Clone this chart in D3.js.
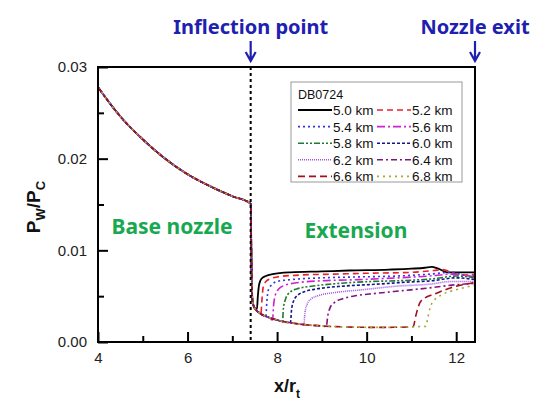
<!DOCTYPE html>
<html><head><meta charset="utf-8">
<script src="https://cdn.jsdelivr.net/npm/d3@7"></script>
<style>body{margin:0;background:#fff}svg{display:block}</style>
</head><body>
<svg id="c" width="556" height="410"></svg>
<script>
// ---- data ----
const xTicks = [4, 6, 8, 10, 12];
const xMinor = [5, 7, 9, 11];
const yTicks = [0, 0.01, 0.02, 0.03];
const yMinor = [0.005, 0.015, 0.025];
const xDomain = [4, 12.42];
const yDomain = [0, 0.03];
const inflectionX = 7.41;

const baseNozzle = [[4.0,0.0278],[4.5,0.0246],[5.0,0.0221],[5.5,0.0200],[6.0,0.0183],[6.5,0.0170],[7.0,0.0159],[7.41,0.0151]];
const lowEnvelope = [[7.43,0.0080],[7.45,0.0045],[7.5,0.0037],[7.6,0.0032],[7.8,0.0027],[8.0,0.0024],[8.3,0.0021],[8.6,0.0019],[9.0,0.00175],[9.5,0.00165],[10.0,0.0016],[10.5,0.0016],[11.0,0.00165],[11.3,0.0017]];

const labels = ["5.0 km","5.2 km","5.4 km","5.6 km","5.8 km","6.0 km","6.2 km","6.4 km","6.6 km","6.8 km"];
const b50 = [[7.55,0.0036],[7.57,0.0050],[7.60,0.0063],[7.65,0.0069],[7.75,0.0072],[7.9,0.0074],[8.3,0.0076],[9.0,0.0077],[9.6,0.0078],[10.5,0.0079],[11.0,0.0080],[11.3,0.0081],[11.45,0.0082],[11.6,0.0080],[11.8,0.0076],[12.0,0.0076],[12.42,0.0076]];
const b52 = [[7.64,0.0031],[7.66,0.0045],[7.69,0.0060],[7.75,0.0066],[7.85,0.0069],[8.0,0.0071],[8.5,0.0073],[9.2,0.0074],[10.0,0.0075],[11.0,0.0076],[11.5,0.0078],[11.7,0.0079],[11.9,0.0076],[12.1,0.0073],[12.42,0.0074]];
const b54 = [[7.75,0.0028],[7.77,0.0043],[7.80,0.0056],[7.87,0.0062],[8.0,0.0066],[8.3,0.0068],[9.0,0.0070],[9.8,0.0071],[10.7,0.0072],[11.4,0.0074],[11.9,0.0076],[12.15,0.0073],[12.42,0.0072]];
const b56 = [[7.9,0.0024],[7.92,0.0039],[7.96,0.0051],[8.04,0.0058],[8.18,0.0062],[8.5,0.0065],[9.1,0.0067],[9.8,0.0068],[10.7,0.0070],[11.4,0.0072],[11.9,0.0074],[12.42,0.0071]];
const b58 = [[8.12,0.0022],[8.14,0.0036],[8.19,0.0047],[8.28,0.0054],[8.45,0.0058],[8.8,0.0061],[9.4,0.0064],[10.1,0.0066],[10.8,0.0067],[11.5,0.0069],[12.0,0.0072],[12.42,0.0070]];
const b60 = [[8.3,0.0021],[8.32,0.0034],[8.37,0.0045],[8.46,0.0051],[8.62,0.0055],[8.9,0.0058],[9.5,0.0061],[10.2,0.0063],[10.8,0.0065],[11.5,0.0067],[12.0,0.0070],[12.42,0.0068]];
const b62 = [[8.6,0.0019],[8.62,0.0031],[8.67,0.0041],[8.76,0.0047],[8.95,0.0051],[9.3,0.0054],[9.9,0.0057],[10.7,0.0061],[11.4,0.0063],[11.9,0.0066],[12.42,0.0066]];
const b64 = [[9.1,0.0017],[9.13,0.0028],[9.18,0.0037],[9.28,0.0043],[9.45,0.0047],[9.7,0.0050],[10.2,0.0053],[10.8,0.0056],[11.4,0.0059],[11.9,0.0062],[12.42,0.0064]];
const b66 = [[11.04,0.0017],[11.1,0.0029],[11.19,0.0043],[11.3,0.0048],[11.5,0.0052],[11.87,0.0059],[12.42,0.0065]];
const b68 = [[11.32,0.0017],[11.36,0.0025],[11.42,0.0038],[11.5,0.0045],[11.7,0.0052],[12.0,0.0057],[12.42,0.0062]];
const branches = [b50,b52,b54,b56,b58,b60,b62,b64,b66,b68];

const colors = ["#000000","#e8202a","#3434e0","#d020d0","#1e7a2e","#14148a","#a050e8","#82147e","#a0101e","#a8a830"];
const dashes = ["none","6,4","2,3","8,3,2,3","6,2,2,2,2,2","3,2","1,1","6,3,2,3","7,4","2,4"];

// ---- chart ----
const svg = d3.select("#c");
const m = {l:98, r:475, t:67, b:342};
const x = d3.scaleLinear().domain(xDomain).range([m.l, m.r]);
const y = d3.scaleLinear().domain(yDomain).range([m.b, m.t]);
const font = "'Liberation Sans', Arial, sans-serif";

const series = labels.map((lab,i) => {
  const sep = branches[i][0][0];
  return {label: lab, color: colors[i], dash: dashes[i],
    pts: baseNozzle.concat(lowEnvelope.filter(p => p[0] < sep), branches[i])};
});

const line = d3.line().x(d=>x(d[0])).y(d=>y(d[1])).curve(d3.curveMonotoneX);

const g = svg.append("g");
series.forEach(s => {
  g.append("path").attr("d", line(s.pts)).attr("fill","none")
   .attr("stroke", s.color).attr("stroke-width", s.dash==="none"?1.8:1.6)
   .attr("stroke-dasharray", s.dash==="none"?null:s.dash);
});

// inflection line
svg.append("line").attr("x1",x(inflectionX)).attr("x2",x(inflectionX))
  .attr("y1",m.t).attr("y2",m.b).attr("stroke","#000").attr("stroke-width",2)
  .attr("stroke-dasharray","3,3");

// axes
const xa = svg.append("g").attr("transform",`translate(0,${m.b})`)
  .call(d3.axisBottom(x).tickValues(xTicks).tickFormat(d3.format("d")).tickSizeInner(-10).tickSizeOuter(0).tickPadding(10));
const xm = svg.append("g").attr("transform",`translate(0,${m.b})`)
  .call(d3.axisBottom(x).tickValues(xMinor).tickFormat("").tickSizeInner(-6).tickSizeOuter(0));
const ya = svg.append("g").attr("transform",`translate(${m.l},0)`)
  .call(d3.axisLeft(y).tickValues(yTicks).tickFormat(d3.format(".2f")).tickSizeInner(-10).tickSizeOuter(0).tickPadding(11));
const ym = svg.append("g").attr("transform",`translate(${m.l},0)`)
  .call(d3.axisLeft(y).tickValues(yMinor).tickFormat("").tickSizeInner(-6).tickSizeOuter(0));
[xa,xm,ya,ym].forEach(a => {
  a.selectAll(".domain").remove();
  a.selectAll(".tick line").attr("stroke","#000").attr("stroke-width",2);
  a.selectAll("text").attr("font-family",font).attr("font-size",15).attr("fill","#222");
});
xa.selectAll("text").attr("dy","0.71em");

// frame
svg.append("rect").attr("x",m.l).attr("y",m.t).attr("width",m.r-m.l).attr("height",m.b-m.t)
  .attr("fill","none").attr("stroke","#000").attr("stroke-width",2);

// axis titles
const xt = svg.append("text").attr("x",287).attr("y",392).attr("text-anchor","middle")
  .attr("font-family",font).attr("font-weight","bold").attr("font-size",18).attr("fill","#111");
xt.append("tspan").text("x/r");
xt.append("tspan").attr("font-size",12).attr("dy",6).text("t");

const yt = svg.append("text").attr("transform","translate(40,207) rotate(-90)").attr("text-anchor","middle")
  .attr("font-family",font).attr("font-weight","bold").attr("font-size",19).attr("fill","#111");
yt.append("tspan").text("P");
yt.append("tspan").attr("font-size",13).attr("dy",5).text("W");
yt.append("tspan").attr("dy",-5).text("/P");
yt.append("tspan").attr("font-size",13).attr("dy",5).text("C");

// annotations
const aFont = "'Noto Sans', 'Open Sans', sans-serif";
const blue = "#2020b0";
[[inflectionX,"Inflection point"],[xDomain[1],"Nozzle exit"]].forEach(([v,t]) => {
  svg.append("text").attr("x",x(v)).attr("y",34).attr("text-anchor","middle")
    .attr("font-family",aFont).attr("font-weight",700).attr("font-size",20).attr("fill",blue).text(t);
  svg.append("path").attr("d",`M${x(v)},41V61M${x(v)-5},52L${x(v)},61L${x(v)+5},52`)
    .attr("fill","none").attr("stroke",blue).attr("stroke-width",2.2);
});
const green = "#18a850";
svg.append("text").attr("x",172).attr("y",234).attr("text-anchor","middle")
  .attr("font-family",aFont).attr("font-weight",700).attr("font-size",21).attr("fill",green).text("Base nozzle");
svg.append("text").attr("x",356).attr("y",238).attr("text-anchor","middle")
  .attr("font-family",aFont).attr("font-weight",700).attr("font-size",21).attr("fill",green).text("Extension");

// legend
const lg = svg.append("g");
lg.append("rect").attr("x",291).attr("y",82).attr("width",171).attr("height",100)
  .attr("fill","#fff").attr("stroke","#999").attr("stroke-width",1);
lg.append("text").attr("x",298).attr("y",99).attr("font-family",font).attr("font-size",12.5).attr("fill","#111").text("DB0724");
series.forEach((s,i) => {
  const col = i % 2, row = Math.floor(i/2);
  const cy = 110 + row*16.6;
  const x0 = col===0 ? 298 : 377;
  lg.append("line").attr("x1",x0).attr("x2",x0+34).attr("y1",cy).attr("y2",cy)
    .attr("stroke",s.color).attr("stroke-width",s.dash==="none"?1.8:1.6)
    .attr("stroke-dasharray",s.dash==="none"?null:s.dash);
  lg.append("text").attr("x",x0+35).attr("y",cy+5).attr("font-family",font).attr("font-size",13.5)
    .attr("fill","#111").text(s.label);
});
</script>
</body></html>
